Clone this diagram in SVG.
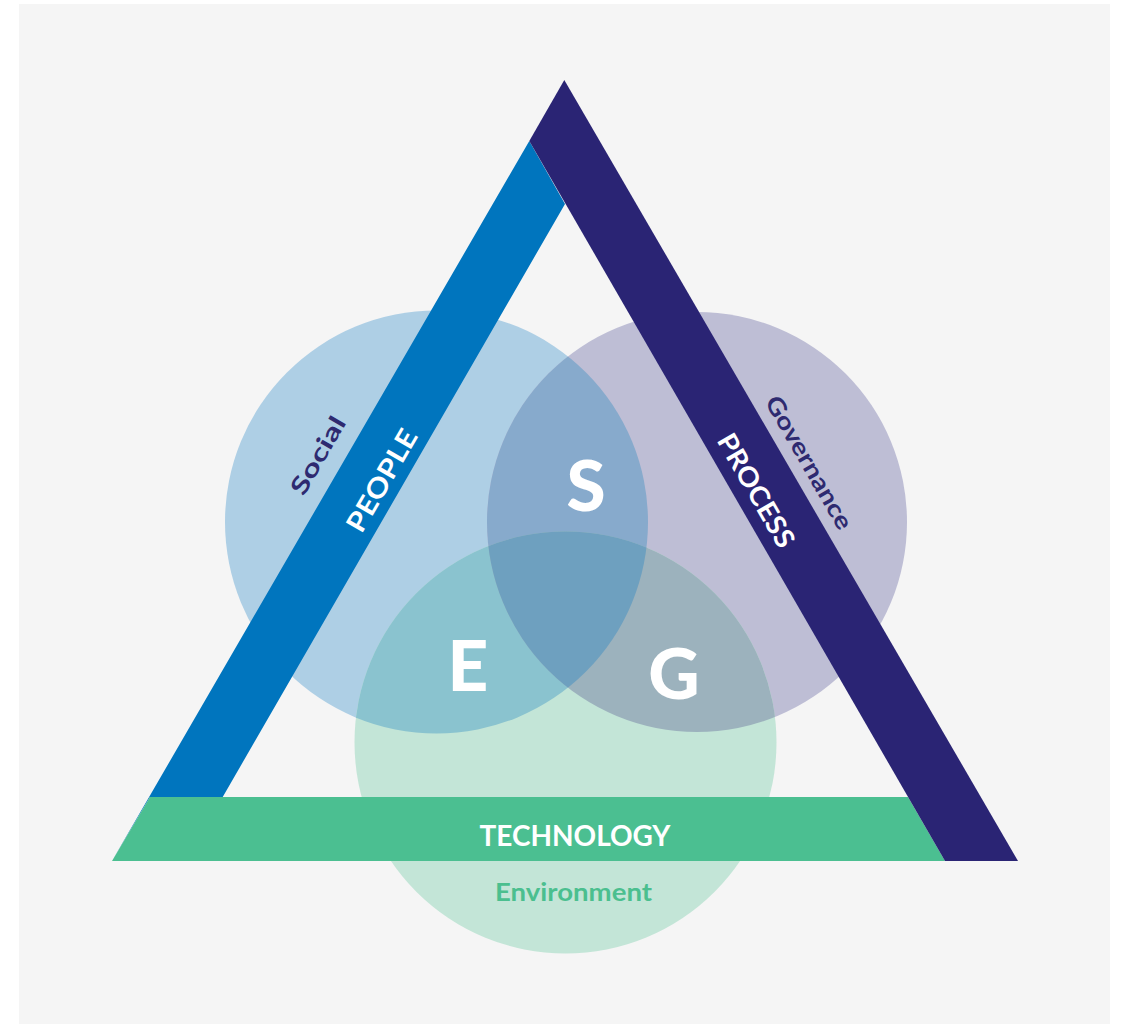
<svg xmlns="http://www.w3.org/2000/svg" width="1125" height="1026" viewBox="0 0 1125 1026">
  <style>
    .t { font-family: Lato, "Open Sans", "Liberation Sans", sans-serif; font-weight: 700; text-anchor: middle; dominant-baseline: central; }
    .big { font-weight: 900; font-size: 71px; }
    .w { fill: #ffffff; }
    .n { fill: #2e2a70; }
    .g { fill: #4bbf8f; }
  </style>
  <defs>
    <clipPath id="cS"><circle cx="436.5" cy="522" r="211.5"/></clipPath>
    <clipPath id="cG"><circle cx="697" cy="522" r="210"/></clipPath>
    <clipPath id="cE"><circle cx="565.5" cy="742.5" r="211"/></clipPath>
  </defs>
  <rect x="0" y="0" width="1125" height="1026" fill="#ffffff"/>
  <rect x="19" y="4" width="1091" height="1020" fill="#f5f5f5"/>

  <g id="circles">
    <g id="social-circle"><circle cx="436.5" cy="522" r="211.5" fill="#aecfe5"/></g>
    <g id="governance-circle"><circle cx="697" cy="522" r="210" fill="#bebed5"/></g>
    <g id="environment-circle"><circle cx="565.5" cy="742.5" r="211" fill="#c3e5d7"/></g>
    <g id="overlap-sg" clip-path="url(#cS)"><circle cx="697" cy="522" r="210" fill="#87aacc"/></g>
    <g id="overlap-se" clip-path="url(#cS)"><circle cx="565.5" cy="742.5" r="211" fill="#8ac3cf"/></g>
    <g id="overlap-ge" clip-path="url(#cG)"><circle cx="565.5" cy="742.5" r="211" fill="#9cb2bd"/></g>
    <g id="overlap-center" clip-path="url(#cS)"><g clip-path="url(#cG)"><circle cx="565.5" cy="742.5" r="211" fill="#6ea0bf"/></g></g>
  </g>

  <g id="people-bar"><polygon points="529.3,141 565,204 222.7,797 150,797 112,861" fill="#0075be"/></g>
  <g id="technology-bar"><polygon points="150,797 908,797 945,861 112,861" fill="#4bbf91"/></g>
  <g id="process-bar"><polygon points="564.3,80 1018,861 945,861 529.3,141" fill="#2a2474"/></g>

  <g id="labels">
    <text class="t n" font-size="24" transform="translate(317,455) rotate(-60)" textLength="86" lengthAdjust="spacingAndGlyphs">Social</text>
    <text class="t w" font-size="27" transform="translate(381,480) rotate(-60)" textLength="114" lengthAdjust="spacingAndGlyphs">PEOPLE</text>
    <text class="t w" font-size="27" transform="translate(757,490) rotate(60)" textLength="127" lengthAdjust="spacingAndGlyphs">PROCESS</text>
    <text class="t n" font-size="24" transform="translate(810,462) rotate(60)" textLength="150" lengthAdjust="spacingAndGlyphs">Governance</text>
    <text class="t w big" x="586" y="483">S</text>
    <text class="t w big" x="468" y="663">E</text>
    <text class="t w big" x="674" y="671">G</text>
    <text class="t w" font-size="28" x="575" y="835" textLength="191" lengthAdjust="spacingAndGlyphs">TECHNOLOGY</text>
    <text class="t g" font-size="25" x="573.5" y="891" textLength="157" lengthAdjust="spacingAndGlyphs">Environment</text>
  </g>
</svg>
